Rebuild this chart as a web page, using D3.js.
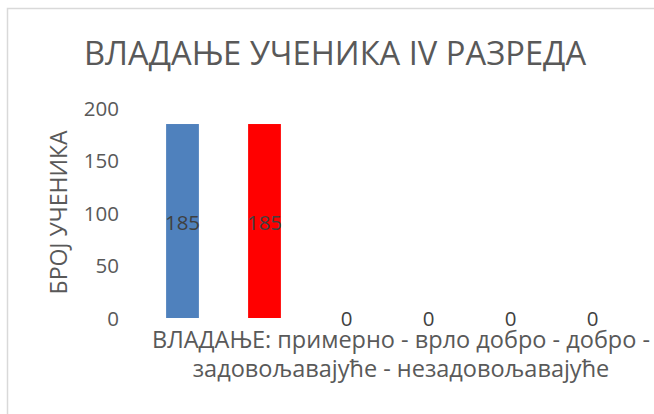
<!DOCTYPE html>
<html><head><meta charset="utf-8">
<script src="https://cdn.jsdelivr.net/npm/d3@7"></script>
<style>body{margin:0;background:#fff}svg{display:block}text{font-family:"Open Sans",sans-serif;fill:#595959}</style>
</head><body><svg id="c" width="654" height="414"></svg>
<script>
const categories = ["примерно","врло добро","добро","задовољавајуће","незадовољавајуће"];
const values = [185, 185, 0, 0, 0, 0];
const barKeys = ["b1","b2","b3","b4","b5","b6"];
const barColors = ["#4F81BD","#FF0000","#4F81BD","#4F81BD","#4F81BD","#4F81BD"];
const yTicks = [0, 50, 100, 150, 200];
const title = "ВЛАДАЊЕ УЧЕНИКА IV РАЗРЕДА";
const yTitle = "БРОЈ УЧЕНИКА";
const xTitleLines = ["ВЛАДАЊЕ: примерно - врло добро - добро -", "задовољавајуће - незадовољавајуће"];

const svg = d3.select("#c");
svg.append("rect").attr("x",7.5).attr("y",8.5).attr("width",660).attr("height",420)
  .attr("fill","#fff").attr("stroke","#D9D9D9").attr("stroke-width",1.5);

const x = d3.scaleBand().domain(barKeys).range([141.5, 633.5]).paddingInner(0.6).paddingOuter(0.3);
const y = d3.scaleLinear().domain([0, 200]).range([318, 108.3]);

svg.append("text").attr("x",335).attr("y",65).attr("text-anchor","middle")
  .style("font-size","32.7px").text(title);

const yAxis = svg.append("g").attr("transform","translate(119,0)")
  .call(d3.axisLeft(y).tickValues(yTicks).tickSize(0).tickPadding(0));
yAxis.select(".domain").remove();
yAxis.selectAll("text").style("font-size","20.5px").style("fill","#595959").attr("dy","0.35em").attr("font-family",null);

svg.append("text").attr("transform","translate(67,212.5) rotate(-90)").attr("text-anchor","middle")
  .style("font-size","23px").text(yTitle);

svg.selectAll(".bar").data(values).join("rect")
  .attr("x",(d,i)=>x(barKeys[i])).attr("width",x.bandwidth())
  .attr("y",d=>y(d)).attr("height",d=>y(0)-y(d)).attr("fill",(d,i)=>barColors[i]);

svg.selectAll(".lbl").data(values).join("text")
  .attr("x",(d,i)=>x(barKeys[i])+x.bandwidth()/2)
  .attr("y",d=> d>0 ? (y(d)+y(0))/2 + 1.5 : y(0)+1)
  .attr("dy","0.35em").attr("text-anchor","middle").style("font-size","20.5px")
  .style("fill","#404040").text(d=>d);

svg.selectAll(".xt").data(xTitleLines).join("text")
  .attr("x",401).attr("y",(d,i)=>348+i*29).attr("text-anchor","middle")
  .style("font-size","23.5px").text(d=>d);
</script></body></html>
